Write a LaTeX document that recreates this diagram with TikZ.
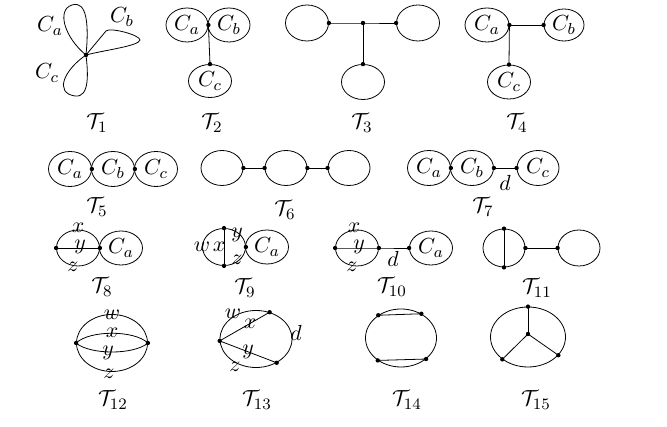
\documentclass[tikz,border=0pt,11pt]{standalone}
\usepackage{amsmath}
\usepackage{amssymb}
\usepackage{tikz}
\usetikzlibrary{calc}
\usetikzlibrary{shapes}
\newcommand{\blob}[6]{
  \node[draw, ellipse, inner sep=0pt, minimum width=#4bp, minimum height=#5bp] (#1) at (#2,#3) {#6};
}
\newcommand{\vtx}[1]{
  \fill (#1) circle (1.1pt);
}
\newcommand{\lab}[4]{
  \node[inner sep=0pt] (#1) at (#2,#3) {$#4$};
}

\begin{document}
\begin{tikzpicture}[x=0.5bp, y=-0.5bp]
      \useasboundingbox (0,0) rectangle (667,427);
      \foreach \i/\x/\y in {1/97/123, 2/212/123, 3/362/123, 4/517/123, 5/97/207,
          6/285/210, 7/483/207, 8/102/287, 9/245/288, 10/392/287, 11/537/288,
          12/113/400, 13/257/400, 14/407/400, 15/536/400} {
        \node (t\i) at (\x,\y) {$\mathcal{T}_{\i}$};
      }
      % T1
      \coordinate (o1) at (86,55);
      \draw (o1) .. controls (65,38) and (56,10) .. (72,5) .. controls (87,0) and (89,25) .. (o1);
      \draw (o1) -- (106,31) .. controls (110,27) and (140,35) .. (140,40) .. controls (139,46) and (105,50) .. (o1);
      \draw (o1) .. controls (64,70) and (54,93) .. (75,96) .. controls (90,98) and (88,72) .. (o1);
      \vtx{o1}
      \lab{a1}{50}{26}{C_a}
      \lab{b1}{122}{17}{C_b}
      \lab{c1}{47}{73}{C_c}
      % T2
      \blob{a2}{187}{25}{21}{17}{$C_a$}
      \blob{b2}{229}{25}{21}{17}{$C_b$}
      \blob{c2}{210}{81}{21.5}{16.5}{$C_c$}
      \draw (a2.east) -- (c2.north);
      \vtx{a2.east} \vtx{c2.north}
      % T3
      \blob{l3}{307}{23}{21.5}{18}{}
      \blob{r3}{418}{23}{21.5}{18}{}
      \blob{d3}{363}{82}{21.5}{17.5}{}
      \coordinate (j3) at (363,23);
      \draw (l3.east) -- (j3) -- (r3.west);
      \draw (j3) -- (d3.north);
      \vtx{l3.east} \vtx{j3} \vtx{r3.west} \vtx{d3.north}
      % T4
      \blob{a4}{487}{25}{22}{17}{$C_a$}
      \blob{b4}{564}{25}{20}{16}{$C_b$}
      \blob{c4}{509}{82}{21.5}{17}{$C_c$}
      \draw (a4.east) -- (b4.west);
      \draw (a4.east) -- (c4.north);
      \vtx{a4.east} \vtx{b4.west} \vtx{c4.north}
      % T5
      \blob{a5}{70}{169}{21.5}{17.5}{$C_a$}
      \blob{b5}{113}{169}{21.5}{17.5}{$C_b$}
      \blob{c5}{156}{169}{21.5}{17.5}{$C_c$}
      \vtx{a5.east} \vtx{b5.east}
      % T6
      \blob{l6}{222}{168}{21}{17.5}{}
      \blob{m6}{286}{168}{21}{17.5}{}
      \blob{r6}{349}{168}{21}{17.5}{}
      \draw (l6.east) -- (m6.west);
      \draw (m6.east) -- (r6.west);
      \vtx{l6.east} \vtx{m6.west} \vtx{m6.east} \vtx{r6.west}
      % T7
      \blob{a7}{429}{168}{21.5}{17.5}{$C_a$}
      \blob{b7}{472}{168}{21.5}{17.5}{$C_b$}
      \blob{c7}{538}{168}{21}{17.5}{$C_c$}
      \draw (b7.east) -- (c7.west);
      \vtx{a7.east} \vtx{b7.east} \vtx{c7.west}
      \lab{d7}{505}{183}{d}
      % T8
      \blob{l8}{78}{248}{21.5}{18}{}
      \blob{a8}{121}{248}{21.5}{17}{$C_a$}
      \draw (l8.west) -- (l8.east);
      \vtx{l8.west} \vtx{l8.east}
      \lab{x8}{78}{228}{x}
      \lab{y8}{80}{247}{y}
      \lab{z8}{73}{267}{z}
      % T9
      \blob{l9}{224}{247}{21.5}{18.5}{}
      \blob{a9}{267}{247}{21.5}{17}{$C_a$}
      \draw (l9.north) -- (l9.south);
      \vtx{l9.north} \vtx{l9.south} \vtx{l9.east}
      \lab{w9}{202}{247}{w}
      \lab{x9}{219}{247}{x}
      \lab{y9}{237}{235}{y}
      \lab{z9}{237}{260}{z}
      % T10
      \blob{l10}{357}{248}{21.5}{18}{}
      \blob{a10}{431}{248}{21.5}{17}{$C_a$}
      \draw (l10.west) -- (l10.east) -- (a10.west);
      \vtx{l10.west} \vtx{l10.east} \vtx{a10.west}
      \lab{x10}{354}{228}{x}
      \lab{y10}{359}{247}{y}
      \lab{z10}{352}{267}{z}
      \lab{d10}{393}{259}{d}
      % T11
      \blob{l11}{504}{248}{21}{19}{}
      \blob{r11}{579}{248}{21}{18}{}
      \draw (l11.north) -- (l11.south);
      \draw (l11.east) -- (r11.west);
      \vtx{l11.north} \vtx{l11.south} \vtx{l11.east} \vtx{r11.west}
      % T12
      \blob{e12}{112}{343}{35.5}{28.5}{}
      \draw (e12.west) .. controls (90,330) and (134,330) .. (e12.east);
      \draw (e12.west) .. controls (90,355) and (134,355) .. (e12.east);
      \vtx{e12.west} \vtx{e12.east}
      \lab{w12}{112}{315}{w}
      \lab{x12}{112}{333}{x}
      \lab{y12}{108}{353}{y}
      \lab{z12}{109}{374}{z}
      % T13
      \blob{e13}{256}{339}{36}{28.5}{}
      \draw (e13.183) -- (e13.63);
      \draw (e13.183) -- (e13.-49);
      \vtx{e13.183} \vtx{e13.63} \vtx{e13.-49}
      \lab{w13}{233}{314}{w}
      \lab{x13}{250}{324}{x}
      \lab{d13}{296}{333}{d}
      \lab{y13}{248}{352}{y}
      \lab{z13}{235}{367}{z}
      % T14
      \blob{e14}{401}{338}{35.5}{29}{}
      \draw (e14.135) -- (e14.50);
      \draw (e14.224) -- (e14.-40);
      \vtx{e14.135} \vtx{e14.50} \vtx{e14.224} \vtx{e14.-40}
      % T15
      \blob{e15}{528}{337}{37.5}{30}{}
      \coordinate (m15) at (528,334);
      \draw (m15) -- (e15.north);
      \draw (m15) -- (e15.221);
      \draw (m15) -- (e15.-31);
      \vtx{m15} \vtx{e15.north} \vtx{e15.221} \vtx{e15.-31}
  \end{tikzpicture}
\end{document}
